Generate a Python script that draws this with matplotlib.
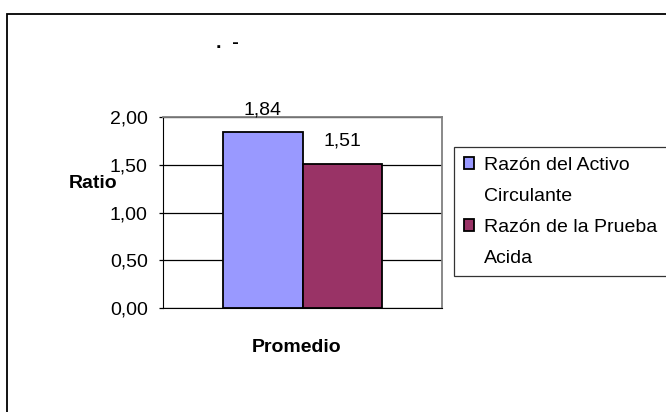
import matplotlib
matplotlib.use("Agg")
import matplotlib.pyplot as plt
from matplotlib.patches import Rectangle, Patch

plt.rcParams['font.family'] = ['Liberation Sans', 'DejaVu Sans']

# data
series = [['Razón del Activo', 'Circulante'], ['Razón de la Prueba', 'Acida']]
values = [1.84, 1.51]
labels = ['1,84', '1,51']
colors = ['#9999FF', '#993366']
yticks = [0.0, 0.5, 1.0, 1.5, 2.0]
ytick_labels = ['0,00', '0,50', '1,00', '1,50', '2,00']

FS = 14

fig = plt.figure(figsize=(6.66, 4.12), dpi=100)
ax = fig.add_axes([163/666, 104/412, 279/666, 191/412])

w = 0.573
offsets = [-w/2, w/2]
handles, names = [], []
for v, off, c, lab, s in zip(values, offsets, colors, labels, series):
    ax.bar(off, v, width=w, color=c, edgecolor='black', linewidth=1.3,
           zorder=3)
    ax.annotate(lab, (off, v), xytext=(0, 10), textcoords='offset points',
                ha='center', va='bottom', fontsize=FS)
    # legend entry: first line with the colour box, second line without
    handles.append(Patch(facecolor=c, edgecolor='black', linewidth=1.3))
    names.append(s[0])
    handles.append(Patch(facecolor='none', edgecolor='none'))
    names.append(s[1])

ax.set_xlim(-1, 1)
ax.set_ylim(0, 2)
ax.set_yticks(yticks)
ax.set_yticklabels(ytick_labels, fontsize=FS)
ax.set_xticks([])
ax.yaxis.grid(True, color='black', linewidth=0.9, zorder=0)
ax.set_axisbelow(True)
ax.tick_params(axis='y', length=3, width=0.9, pad=8)
for s in ['top', 'right']:
    ax.spines[s].set_color('#808080')
    ax.spines[s].set_linewidth(1.3)
ax.spines['left'].set_color('black')
ax.spines['bottom'].set_color('black')

fig.text(93/666, 1 - 184/412, 'Ratio', fontsize=FS, fontweight='bold',
         ha='center', va='center')
fig.text(297/666, 1 - 347/412, 'Promedio', fontsize=FS, fontweight='bold',
         ha='center', va='center')
fig.text(227/666, 1 - 43/412, '.  -', fontsize=FS, fontweight='bold',
         ha='center', va='center')

leg = fig.legend(handles, names, loc='upper left',
                 bbox_to_anchor=(454/666, 1 - 147/412),
                 fontsize=FS, frameon=True, fancybox=False, edgecolor='black',
                 handlelength=0.55, handleheight=0.55, handletextpad=0.5,
                 borderpad=0.5, labelspacing=0.72, borderaxespad=0)
leg.get_frame().set_linewidth(0.9)

fig.add_artist(Rectangle((7/666, -0.1), 1.2, 1.1 - 14/412,
                         transform=fig.transFigure, fill=False,
                         edgecolor='black', linewidth=1.3))

fig.savefig('out.png', dpi=100)
